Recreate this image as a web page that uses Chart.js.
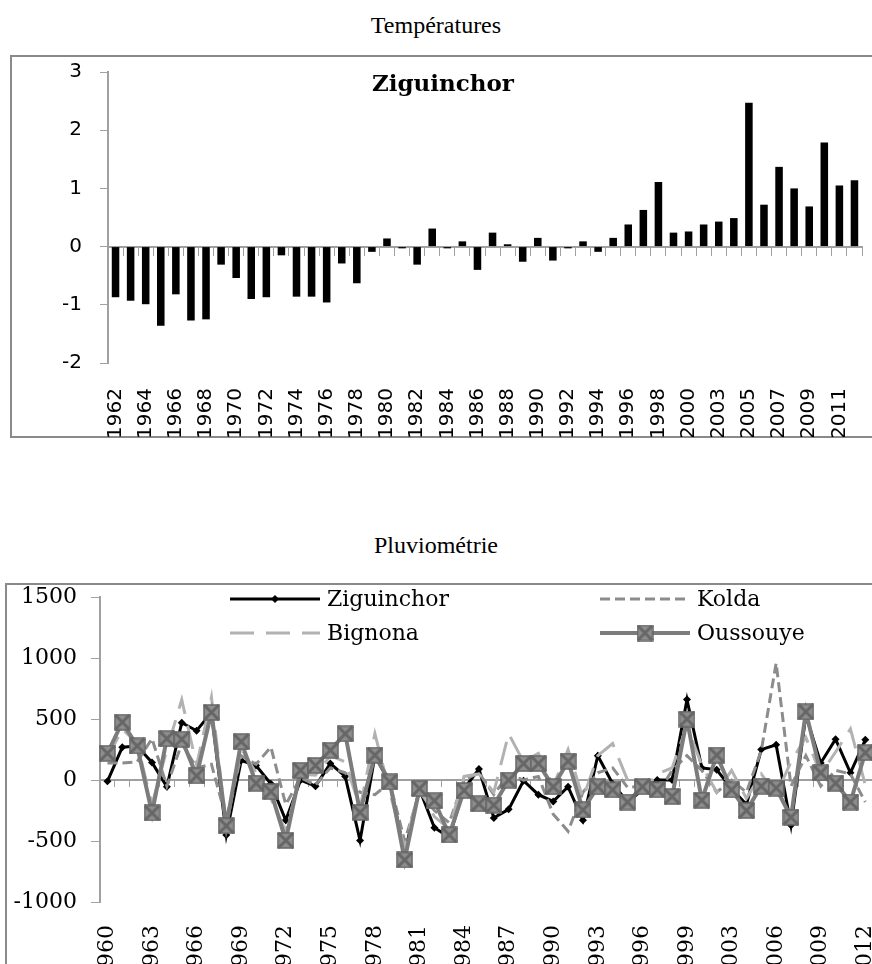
<!DOCTYPE html>
<html>
<head>
<meta charset="utf-8">
<script src="https://cdn.jsdelivr.net/npm/chart.js@4/dist/chart.umd.min.js"></script>
<style>
  html, body { margin: 0; padding: 0; background: #fff; overflow: hidden; }
  body { width: 872px; height: 964px; position: relative; }
  .titre { position: absolute; left: 0; width: 872px; text-align: center;
           font-family: "Liberation Serif", serif; font-size: 24px; line-height: 28px; color: #000; }
  .cadre { position: absolute; border: 2px solid #8a8a8a; box-sizing: border-box; }
  #cadreT { left: 10px; top: 55px; width: 920px; height: 383px; }
  #cadreP { left: 5px; top: 583px; width: 920px; height: 420px; }
  canvas { position: absolute; }
  #temp { left: 12px; top: 42px; }
  #pluie { left: 7px; top: 570px; }
  #station { position: absolute; left: 443px; top: 69px; transform: translateX(-50%);
             font-family: "DejaVu Serif", serif; font-weight: bold; font-size: 23px; line-height: 28px; }
</style>
</head>
<body>
<div class="titre" style="top:11px">Températures</div>
<div class="cadre" id="cadreT"></div>
<canvas id="temp" width="900" height="395"></canvas>
<div id="station">Ziguinchor</div>

<div class="titre" style="top:531px">Pluviométrie</div>
<div class="cadre" id="cadreP"></div>
<canvas id="pluie" width="900" height="405"></canvas>

<script>
// ---- Températures (anomalies, Ziguinchor) ----
const anneesT = [
  "1962","1963","1964","1965","1966","1967","1968","1969","1970","1971",
  "1972","1973","1974","1975","1976","1977","1978","1979","1980","1981",
  "1982","1983","1984","1985","1986","1987","1988","1989","1990","1991",
  "1992","1993","1994","1995","1996","1997","1998","1999","2000","2001",
  "2003","2004","2005","2006","2007","2008","2009","2010","2011","2012",
];
const anomalies = [
  -0.87, -0.93, -0.99, -1.36, -0.82, -1.27, -1.25, -0.31, -0.54, -0.90,
  -0.87, -0.15, -0.86, -0.86, -0.96, -0.29, -0.63, -0.09, 0.14, -0.03,
  -0.31, 0.31, -0.03, 0.09, -0.40, 0.24, 0.04, -0.26, 0.15, -0.24,
  -0.03, 0.09, -0.09, 0.15, 0.38, 0.63, 1.11, 0.24, 0.26, 0.38,
  0.43, 0.49, 2.47, 0.72, 1.37, 1.00, 0.69, 1.79, 1.05, 1.14,
];
const ticksT = [-2, -1, 0, 1, 2, 3];

// ---- Pluviométrie (écarts, mm) ----
const anneesP = [
  "1960","1961","1962","1963","1964","1965","1966","1967","1968","1969",
  "1970","1971","1972","1973","1974","1975","1976","1977","1978","1979",
  "1980","1981","1982","1983","1984","1985","1986","1987","1988","1989",
  "1990","1991","1992","1993","1994","1995","1996","1997","1998","1999",
  "2000","2001","2003","2004","2005","2006","2007","2008","2009","2010",
  "2011","2012",
];
const ziguinchor = [
  -10, 270, 280, 145, -55, 470, 405, 555, -450, 160,
  120, -30, -330, 0, -50, 135, 30, -495, 200, -25,
  -600, -75, -390, -470, -70, 90, -310, -240, -5, -120,
  -175, -55, -330, 200, -30, -180, -80, 0, 0, 660,
  100, 85, -70, -200, 250, 290, -370, 530, 140, 335,
  60, 330,
];
const kolda = [
  140, 140, 150, 340, -50, 300, 100, 130, -320, 200,
  130, 270, -200, 20, -40, 100, 60, -100, -120, -20,
  -500, -100, -250, -350, 0, 60, -120, 50, 0, 30,
  -280, -420, -100, 60, 100, -60, -50, -120, 80, 200,
  80, -100, 0, -100, 240, 960, -50, 200, -50, 80,
  50, -180,
];
const bignona = [
  180, 420, 300, -200, 250, 660, 120, 680, -380, 260,
  60, -150, -420, 50, 40, 200, 150, -230, 380, -100,
  -560, -60, -300, -400, 30, 50, -100, 380, 150, 220,
  -50, 250, -150, 200, 300, 0, -100, 50, 100, 450,
  120, -100, 80, -150, 50, -120, 150, 350, 50, 230,
  420, -40,
];
const oussouye = [
  220, 475, 280, -270, 340, 335, 35, 555, -375, 315,
  -25, -95, -495, 80, 120, 245, 380, -265, 205, -15,
  -655, -70, -170, -450, -85, -195, -205, 0, 135, 135,
  -55, 155, -245, -55, -80, -180, -55, -80, -135, 500,
  -165, 205, -80, -250, -50, -65, -305, 560, 60, -25,
  -180, 225,
];
const ticksP = [-1000, -500, 0, 500, 1000, 1500];

const gris = "#a0a0a0";

// ---------- graphique des températures ----------
new Chart(document.getElementById("temp"), {
  type: "bar",
  data: {
    labels: anneesT,
    datasets: [
      {
        label: "Ziguinchor",
        data: anomalies,
        backgroundColor: "#000",
        barPercentage: 0.5,
        categoryPercentage: 1,
      },
    ],
  },
  options: {
    responsive: false,
    animation: false,
    layout: { padding: { top: 0, right: 50, left: 0, bottom: 0 } },
    plugins: { legend: { display: false }, tooltip: { enabled: false } },
    scales: {
      y: {
        min: ticksT[0],
        max: ticksT[ticksT.length - 1],
        ticks: { stepSize: 1, color: "#000", padding: 18,
                 font: { family: "DejaVu Sans", size: 20 } },
        grid: { drawOnChartArea: false, tickLength: 8, color: gris },
        border: { color: gris, width: 2 },
        afterFit: (s) => { s.width = 96; },
      },
      x: {
        grid: { display: false },
        border: { display: false },
        ticks: {
          autoSkip: false, minRotation: 90, maxRotation: 90, padding: 17, color: "#000",
          font: { family: "DejaVu Sans", size: 20 },
          callback: (v, i) => (i % 2 === 0 ? anneesT[i] : ""),
        },
        afterFit: (s) => { s.height = 74; },
      },
      xz: {
        type: "category",
        axis: "x",
        position: { y: 0 },
        offset: true,
        ticks: { display: false },
        grid: { drawOnChartArea: false, offset: true, tickLength: 8, color: gris },
        border: { color: gris, width: 2 },
      },
    },
  },
});

// ---------- graphique des pluies ----------
// marqueur carré barré pour Oussouye
const marqueur = document.createElement("canvas");
marqueur.width = 17;
marqueur.height = 17;
(function () {
  const c = marqueur.getContext("2d");
  c.fillStyle = "#8e8e8e";
  c.fillRect(1, 1, 15, 15);
  c.strokeStyle = "#666";
  c.lineWidth = 1.5;
  c.strokeRect(1, 1, 15, 15);
  c.lineWidth = 3;
  c.beginPath();
  c.moveTo(1, 1); c.lineTo(16, 16);
  c.moveTo(16, 1); c.lineTo(1, 16);
  c.stroke();
})();

const legende = {
  id: "legende",
  afterDraw(chart) {
    const ctx = chart.ctx;
    const cols = [223, 593];
    const rows = [29, 63];
    ctx.save();
    chart.data.datasets.forEach((ds, i) => {
      const x = cols[i % 2];
      const y = rows[Math.floor(i / 2)];
      ctx.strokeStyle = ds.borderColor;
      ctx.lineWidth = ds.borderWidth;
      ctx.setLineDash(ds.borderDash || []);
      ctx.beginPath();
      ctx.moveTo(x, y);
      ctx.lineTo(x + 90, y);
      ctx.stroke();
      ctx.setLineDash([]);
      if (ds.pointStyle === "rectRot") {
        ctx.fillStyle = ds.backgroundColor;
        ctx.beginPath();
        ctx.moveTo(x + 45, y - 4);
        ctx.lineTo(x + 49, y);
        ctx.lineTo(x + 45, y + 4);
        ctx.lineTo(x + 41, y);
        ctx.closePath();
        ctx.fill();
      } else if (ds.pointStyle === marqueur) {
        ctx.drawImage(marqueur, x + 45 - 8.5, y - 8.5);
      }
      ctx.fillStyle = "#000";
      ctx.font = "22px 'DejaVu Serif'";
      ctx.textBaseline = "middle";
      ctx.fillText(ds.label, x + 97, y + 1);
    });
    ctx.restore();
  },
};

new Chart(document.getElementById("pluie"), {
  type: "line",
  data: {
    labels: anneesP,
    datasets: [
      {
        label: "Ziguinchor", data: ziguinchor, borderColor: "#000", backgroundColor: "#000",
        borderWidth: 3, pointStyle: "rectRot", pointRadius: 4, pointBorderWidth: 0, order: 3,
      },
      {
        label: "Kolda", data: kolda, borderColor: "#8c8c8c", borderDash: [10, 5],
        borderWidth: 3, pointRadius: 0, order: 2,
      },
      {
        label: "Bignona", data: bignona, borderColor: "#b2b2b2", borderDash: [24, 12],
        borderWidth: 3, pointRadius: 0, order: 1,
      },
      {
        label: "Oussouye", data: oussouye, borderColor: "#7c7c7c", backgroundColor: "#8e8e8e",
        borderWidth: 4, pointStyle: marqueur, pointRadius: 9, order: 0,
      },
    ],
  },
  options: {
    responsive: false,
    animation: false,
    layout: { padding: { top: 0, right: 32, left: 0, bottom: 0 } },
    elements: { line: { tension: 0 } },
    plugins: { legend: { display: false }, tooltip: { enabled: false } },
    scales: {
      y: {
        min: ticksP[0],
        max: ticksP[ticksP.length - 1],
        ticks: { stepSize: 500, color: "#000", padding: 14,
                 font: { family: "DejaVu Serif", size: 22 },
                 callback: (v) => String(v) },
        grid: { drawOnChartArea: false, tickLength: 9, color: gris },
        border: { color: gris, width: 2 },
        afterFit: (s) => { s.width = 93; },
      },
      x: {
        offset: true,
        grid: { display: false },
        border: { display: false },
        ticks: {
          autoSkip: false, minRotation: 90, maxRotation: 90, padding: 15, color: "#000",
          font: { family: "DejaVu Serif", size: 22 },
          callback: (v, i) => (i % 3 === 0 ? anneesP[i] : ""),
        },
        afterFit: (s) => { s.height = 73; },
      },
      xz: {
        type: "category",
        axis: "x",
        position: { y: 0 },
        offset: true,
        ticks: { display: false },
        grid: { drawOnChartArea: false, offset: true, tickLength: 6, color: gris },
        border: { color: gris, width: 2 },
      },
    },
  },
  plugins: [legende],
});
</script>
</body>
</html>
